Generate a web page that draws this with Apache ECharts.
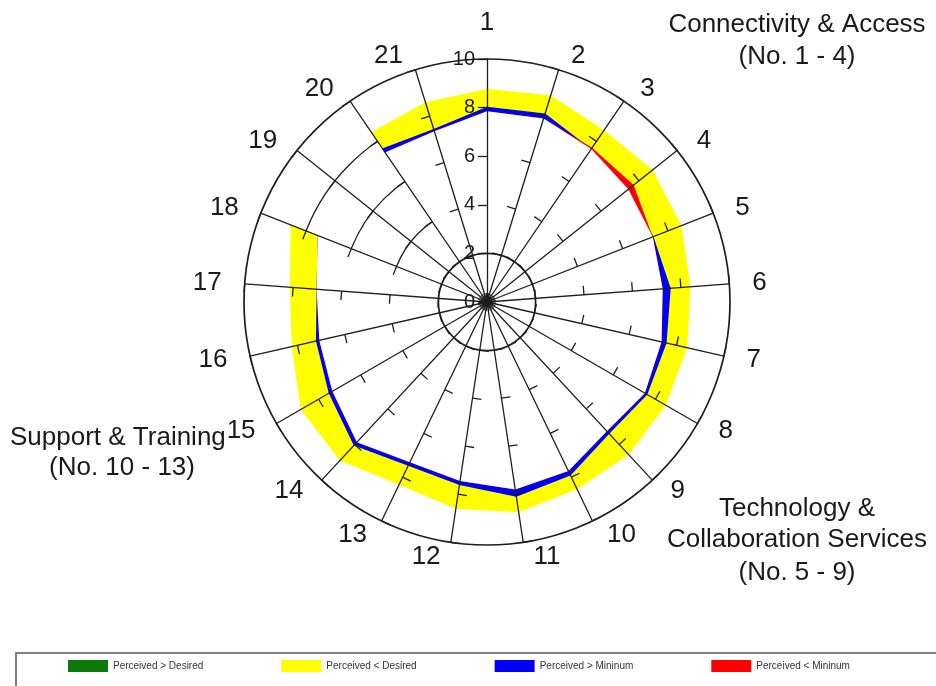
<!DOCTYPE html>
<html><head><meta charset="utf-8">
<script src="https://cdn.jsdelivr.net/npm/echarts@6/dist/echarts.min.js"></script>
<style>html,body{margin:0;padding:0;background:#fff}#c{width:936px;height:686px}</style>
</head><body><div id="c"></div>
<script>
// ---- data ----
const itemLabels = ['1','2','3','4','5','6','7','8','9','10','11','12','13','14','15','16','17','18','19','20','21'];
const minimumScores   = [7.85, 7.90, 7.68, 7.72, 7.33, 7.25, 7.37, 7.50, 7.25, 7.72, 7.80, 7.45, 7.32, 7.87, 7.35, 7.08, 7.03, 7.49, null, 7.45, 7.35];
const perceivedScores = [8.03, 8.12, 7.62, 7.44, 7.36, 7.58, 7.58, 7.62, 7.40, 7.92, 8.10, 7.62, 7.48, 8.06, 7.52, 7.22, 7.03, 7.49, null, 7.65, 7.45];
const desiredScores   = [8.77, 8.90, 8.55, 8.72, 8.60, 8.40, 8.45, 8.50, 8.57, 8.55, 8.75, 8.60, 8.35, 8.90, 8.85, 8.24, 8.14, 8.68, null, 8.45, 8.60];
const scaleMin = 0, scaleMax = 10, scaleSplits = 5;
const legendNames = ['Perceived > Desired', 'Perceived < Desired', 'Perceived > Mininum', 'Perceived < Mininum'];
const connectivityText = ['Connectivity & Access', '(No. 1 - 4)'];
const technologyText = ['Technology &', 'Collaboration Services', '(No. 5 - 9)'];
const supportText = ['Support & Training', '(No. 10 - 13)'];

// ---- build ----
// ECharts radar places indicators counter-clockwise; reorder so items run clockwise from the top.
const n = itemLabels.length;
const order = itemLabels.map((_, i) => (n - i) % n);
const clean = v => (v == null ? 0 : v);
const reorder = arr => order.map(k => clean(arr[k]));
const lowerEdge = minimumScores.map((m, i) => Math.min(clean(m), clean(perceivedScores[i])));

const T = 'rgba(0,0,0,0)';
const INK = '#1a1a1a';
const LINE = '#1e1e1e';
const FONT = '"Liberation Sans", Arial, sans-serif';
const C = [487, 302], R = 243;

const baseIndicators = order.map(k => ({ name: itemLabels[k], min: scaleMin, max: scaleMax }));
const topIndicators = order.map((k, i) => ({ name: itemLabels[k], min: scaleMin, max: scaleMax, axisLabel: { show: i === 0 } }));

function txt(text, x, y, align) {
  return { type: 'text', x: x, y: y, z: 20,
    style: { text: text, font: '26px ' + FONT, fill: INK, align: align, textAlign: align, verticalAlign: 'middle', textVerticalAlign: 'middle' } };
}
function layer(name, values, color) {
  return { type: 'radar', radarIndex: 0, symbol: 'none', silent: true, z: 2,
    lineStyle: { width: 0, color: color },
    itemStyle: { color: color },
    areaStyle: { color: color, opacity: 1 },
    data: [{ name: name, value: values, itemStyle: { color: color }, areaStyle: { color: color, opacity: 1 } }] };
}

const chart = echarts.init(document.getElementById('c'), null, { renderer: 'canvas' });
chart.setOption({
  animation: false,
  backgroundColor: '#ffffff',
  radar: [
    { center: C, radius: R, startAngle: 90, splitNumber: scaleSplits, shape: 'circle', z: 0,
      indicator: baseIndicators,
      axisName: { show: false },
      axisLine: { show: false }, axisTick: { show: false }, axisLabel: { show: false },
      splitArea: { show: false },
      splitLine: { show: true, lineStyle: { color: [T, T, LINE, LINE, LINE, T], width: 1.3 } } },
    { center: C, radius: R, startAngle: 90, splitNumber: scaleSplits, shape: 'circle', z: 10,
      indicator: topIndicators,
      nameGap: 15,
      axisName: { show: true, color: INK, fontSize: 26, fontFamily: FONT, padding: 8 },
      axisLine: { show: true, lineStyle: { color: LINE, width: 1.3 } },
      axisTick: { show: true, length: 9, lineStyle: { color: LINE, width: 1.3 } },
      axisLabel: { show: false, fontSize: 20, color: INK, fontFamily: FONT, margin: 12 },
      splitArea: { show: false },
      splitLine: { show: true, lineStyle: { color: [T, LINE, T, T, T, LINE], width: 1.7 } } }
  ],
  legend: {
    data: legendNames, left: 16, top: 653, width: 820, orient: 'horizontal',
    icon: 'rect', itemWidth: 40, itemHeight: 12, itemGap: 78,
    padding: [7, 90, 30, 52], borderColor: '#555', borderWidth: 1.5,
    selectedMode: false,
    textStyle: { fontSize: 10, color: '#333', fontFamily: FONT }
  },
  series: [
    // green layer (perceived above desired) is drawn first, below yellow, as in LibQUAL charts
    layer(legendNames[0], reorder(perceivedScores), '#0b7a0b'),
    layer(legendNames[1], reorder(desiredScores), '#ffff00'),
    layer(legendNames[2], reorder(perceivedScores), '#0000f5'),
    layer(legendNames[3], reorder(minimumScores), '#ff0000'),
    layer('inner', reorder(lowerEdge), '#ffffff')
  ],
  graphic: [
    txt(connectivityText[0], 797, 25, 'center'),
    txt(connectivityText[1], 797, 57, 'center'),
    txt(technologyText[0], 797, 509, 'center'),
    txt(technologyText[1], 797, 540, 'center'),
    txt(technologyText[2], 797, 573, 'center'),
    txt(supportText[0], 10, 438, 'left'),
    txt(supportText[1], 122, 468, 'center')
  ]
});
</script></body></html>
